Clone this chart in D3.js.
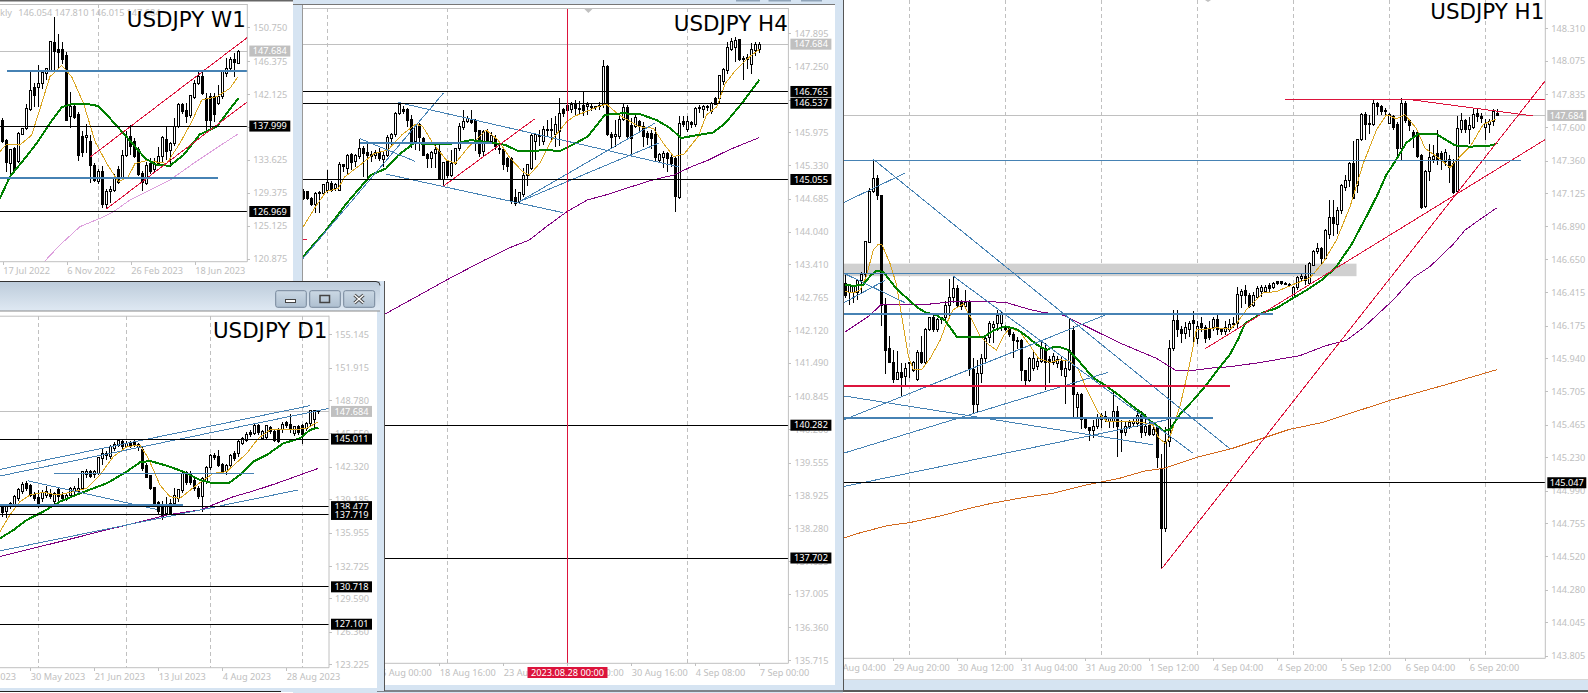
<!DOCTYPE html>
<html><head><meta charset="utf-8"><title>USDJPY multi-timeframe</title>
<script src="https://d3js.org/d3.v7.min.js"></script>
<style>
html,body{margin:0;padding:0;background:#fff;overflow:hidden}
svg{display:block}
text{font-family:"Noto Sans",sans-serif;font-size:9.2px}
.title{font-family:"DejaVu Sans",sans-serif;font-size:21.4px;fill:#000}
</style></head><body><svg id="c" width="1588" height="693"></svg>
<script>
// ---------- W1 ----------
const w1Candles=[[138.69,139.0,135.8,135.98],[136.16,136.3,132.11,133.31],[133.18,135.1,131.46,135.03],[135.12,135.3,132.0,132.24],[133.4,137.27,133.2,137.06],[136.97,137.7,136.8,137.62],[137.7,140.85,137.5,140.29],[140.2,145.02,140.0,142.65],[143.0,143.6,140.5,142.0],[143.0,145.9,140.41,143.43],[143.52,145.0,142.8,144.89],[144.8,145.45,144.0,145.45],[145.15,148.9,145.0,148.9],[148.8,152.12,145.24,147.6],[147.82,149.84,145.45,147.48],[147.82,148.9,146.0,146.53],[147.17,147.6,138.6,138.78],[139.21,142.44,137.7,140.5],[140.5,141.0,138.9,139.13],[139.43,139.86,133.49,134.26],[136.63,137.4,134.05,134.61],[136.5,138.27,134.48,136.84],[136.07,136.8,130.6,132.88],[132.97,133.2,130.82,131.03],[130.9,132.4,130.5,132.11],[132.11,132.8,127.38,127.81],[127.81,129.9,127.25,129.61],[129.53,130.2,128.02,129.83],[129.74,131.8,129.5,131.25],[132.45,132.88,130.5,130.69],[131.38,134.91,131.0,134.26],[134.26,137.3,134.0,136.63],[136.63,138.14,134.26,135.34],[135.98,136.5,133.9,134.05],[134.91,135.3,131.6,131.76],[131.89,132.2,129.66,130.69],[130.6,133.4,130.4,132.88],[133.18,133.83,131.8,132.11],[132.33,133.83,132.0,133.18],[133.18,135.34,132.9,134.05],[134.05,136.71,133.18,136.5],[136.29,137.92,133.62,134.69],[134.78,136.0,132.76,135.77],[135.77,139.0,135.4,138.0],[138.0,140.93,137.7,140.72],[140.72,141.0,139.5,139.94],[140.07,140.93,138.35,139.21],[139.3,142.0,139.1,141.92],[141.71,143.95,141.5,143.52],[143.52,145.15,143.3,144.46],[144.46,145.0,142.0,142.22],[141.58,142.22,137.27,138.78],[141.88,142.3,137.49,138.69],[141.88,142.22,138.57,139.43],[140.93,143.3,140.72,141.79],[141.79,145.11,141.5,145.11],[144.8,146.75,144.3,145.37],[145.37,146.96,145.0,146.53],[146.53,147.48,144.37,146.18],[146.1,147.81,146.0,147.684]];
const w1Green=[[-0.7,128.67],[1.8,131.46],[5.2,133.62],[8.5,135.77],[11.8,138.35],[14.75,140.41],[17.25,140.85],[21,140.85],[23.9,140.59],[26.8,139.0],[30.2,137.06],[33.5,135.12],[35.6,133.83],[38.5,132.97],[41.8,132.88],[45.2,134.26],[49.3,136.93],[53.5,137.92],[56,139.64],[58.9,141.58]];
const w1Gold=[[-0.7,134.69],[1,135.68],[4.3,135.55],[7.25,136.84],[9.75,140.93],[11.8,144.37],[14.75,145.8],[17.25,144.37],[20.2,140.93],[23.1,135.98],[26,133.18],[28.9,130.82],[31.4,131.46],[33.1,133.18],[36,133.53],[41,133.18],[44.3,135.77],[47.25,138.57],[49.75,141.36],[53.5,141.79],[56.8,142.87],[58.7,144.29]];
const w1Pink=[[10.4,120.49],[14.3,122.64],[19.3,125.01],[24.3,126.08],[27.7,126.94],[31.8,128.45],[36,129.53],[41.8,131.03],[47.7,133.18],[52.7,134.91],[58.8,136.97]];
const w1Ticks=[150.75,146.375,142.125,137.875,133.625,129.375,125.125,120.875];
const w1DateTicks=[0,16,32,48];
const w1DateLabels=["17 Jul 2022","6 Nov 2022","26 Feb 2023","18 Jun 2023"];
const w1Grid=[24];
const w1BlackLevels=[137.999,126.969];
const w1ThickBlue=[[145.15,1,61.2],[131.33,-1,53.9]];
const w1RedLines=[[21.8,133.96,61.2,149.45],[25.8,127.25,61.2,141.15]];
const w1InfoLabels=["146.054","147.810","146.015","147.684"];
// ---------- D1 ----------
const d1Candles=[[138.47,138.6,137.51,137.92],[137.99,138.47,137.41,138.47],[138.47,138.96,138.2,138.8],[138.63,139.6,138.4,139.44],[139.28,140.25,139.0,140.09],[139.92,140.83,139.7,140.63],[140.73,140.96,140.0,140.25],[140.5,140.7,139.4,139.6],[139.67,139.9,139.0,139.28],[139.35,140.09,138.31,138.7],[139.22,140.1,138.9,139.86],[139.6,140.5,139.3,139.92],[139.76,140.2,139.2,139.44],[138.96,139.9,138.7,139.76],[140.09,140.3,138.7,139.44],[139.6,139.9,139.0,139.28],[139.22,139.8,139.0,139.6],[139.6,140.4,139.3,140.25],[139.92,140.5,139.6,140.25],[139.92,141.21,139.6,140.25],[140.25,141.95,140.1,141.86],[141.54,142.12,141.2,141.92],[141.86,142.0,141.21,141.37],[141.54,142.0,141.28,141.86],[141.7,143.3,141.5,143.21],[143.15,144.05,142.5,143.63],[143.63,143.9,143.0,143.41],[143.31,144.4,143.1,144.27],[144.12,144.7,143.9,144.5],[144.37,145.02,144.2,144.86],[144.76,145.02,144.0,144.27],[144.27,144.8,144.1,144.6],[144.6,144.85,144.1,144.37],[144.66,145.0,144.2,144.37],[144.18,144.65,143.9,144.5],[144.05,144.2,141.9,142.12],[142.5,142.7,141.2,141.31],[141.44,141.55,140.1,140.25],[140.31,140.4,138.4,138.63],[138.86,139.0,137.67,137.99],[138.54,139.0,137.18,137.51],[137.83,139.44,137.6,138.54],[138.8,139.22,137.73,137.73],[138.8,140.25,138.4,139.6],[139.28,140.2,138.9,140.09],[139.99,141.8,139.8,141.7],[141.8,141.95,140.6,140.83],[141.7,141.9,140.6,140.83],[141.05,141.3,140.0,140.25],[140.25,140.5,139.2,139.44],[139.44,141.3,138.0,141.21],[140.89,142.4,140.7,142.28],[142.24,143.6,142.0,143.47],[143.47,143.7,143.0,143.21],[143.31,143.96,142.3,142.5],[142.57,142.7,141.6,141.86],[141.86,142.6,141.54,142.5],[142.5,143.6,142.3,143.47],[143.63,143.9,142.9,143.15],[143.63,144.9,143.3,144.76],[144.6,145.2,144.4,145.08],[144.92,145.66,144.7,145.47],[145.66,145.9,145.2,145.41],[145.57,146.5,145.4,146.37],[146.37,146.5,145.4,145.66],[145.08,145.9,144.9,145.73],[145.15,146.4,145.0,146.31],[146.12,146.3,145.5,145.73],[145.79,146.0,144.7,144.92],[145.89,146.1,144.6,144.76],[145.89,146.7,145.6,146.44],[146.63,146.75,146.1,146.37],[146.44,147.4,145.6,145.89],[145.57,146.3,145.3,146.21],[146.21,146.4,145.4,145.66],[146.31,146.5,144.5,145.47],[146.05,146.7,145.8,146.53],[146.47,147.85,146.3,147.76],[146.95,147.85,146.0,147.76],[147.76,147.85,147.45,147.684]];
const d1Green=[[-0.6,135.41],[2.75,136.2],[6.1,137.18],[10.25,137.99],[14.4,138.96],[19.4,139.76],[26.1,140.73],[31.1,141.86],[34.4,142.76],[36.9,142.89],[41.1,142.44],[45.25,141.86],[49.4,141.05],[52.75,140.73],[56.5,140.73],[59.4,141.54],[62.75,142.83],[66.1,143.47],[70.25,144.6],[74.4,145.08],[76.9,145.89],[79,146.12]];
const d1Gold=[[-0.6,136.06],[1.9,137.67],[4.4,138.96],[6.9,139.6],[10.25,139.86],[13.6,139.6],[17.75,139.92],[21.1,140.25],[24.4,141.54],[27.75,143.31],[31.1,144.27],[34.4,144.44],[36.5,143.15],[39.4,140.57],[41.9,139.44],[44.4,139.28],[48.6,140.57],[52.75,141.7],[56.1,141.86],[61.1,143.63],[64,145.08],[66.9,145.89],[71.9,145.89],[76.1,146.05],[79,146.7]];
const d1Purple=[[-0.6,133.64],[7.75,134.45],[16.1,135.25],[24.4,136.06],[32.75,136.86],[41.1,137.67],[49.4,138.15],[57.75,139.44],[62.75,139.99],[68.6,140.73],[74.4,141.54],[79,142.18]];
const d1Ticks=[155.145,151.915,148.78,145.55,142.32,139.185,135.955,132.725,129.59,126.36,123.225];
const d1DateTicks=[-9,7,23,39,55,71];
const d1DateLabels=["8 May 2023","30 May 2023","21 Jun 2023","13 Jul 2023","4 Aug 2023","28 Aug 2023"];
const d1Grid=[9,31,52,75];
const d1BlackLevels=[145.011,138.477,137.719,130.718,127.101];
const d1ThickBlue=[[138.63,-1,45.1]];
const d1BlueLines=[[-0.6,142.08,76.9,148.24],[-0.6,141.44,81.75,147.98],[-0.6,134.2,74,140.09],[12.9,141.7,62.9,141.7],[6.5,140.96,38.6,138.2]];
// ---------- H4 ----------
const h4Candles=[[144.82,144.88,144.66,144.68],[144.82,144.84,144.66,144.69],[144.69,144.72,144.54,144.57],[144.57,144.82,144.4,144.79],[144.8,144.84,144.4,144.78],[144.79,144.97,144.75,144.95],[144.84,145.23,144.8,145.0],[144.98,145.02,144.82,144.85],[144.88,144.98,144.84,144.95],[144.85,145.39,144.83,145.34],[145.34,145.36,145.2,145.3],[145.27,145.56,145.14,145.53],[145.55,145.57,145.24,145.39],[145.4,145.56,145.3,145.53],[145.5,145.85,145.45,145.65],[145.65,145.7,145.11,145.56],[145.58,145.76,145.08,145.53],[145.55,145.6,145.4,145.5],[145.52,145.62,145.45,145.58],[145.58,145.66,145.42,145.47],[145.45,145.58,145.3,145.53],[145.53,145.92,145.5,145.87],[145.86,145.95,145.7,145.92],[145.92,146.36,145.88,146.34],[146.33,146.55,146.3,146.52],[146.41,146.48,146.33,146.37],[146.42,146.44,146.08,146.21],[146.22,146.31,145.66,145.79],[145.79,146.13,145.62,146.11],[146.13,146.15,145.6,145.87],[145.86,145.88,145.51,145.53],[145.55,145.57,145.27,145.47],[145.47,145.6,145.27,145.58],[145.56,145.79,145.27,145.64],[145.6,145.79,145.05,145.06],[145.06,145.4,144.93,145.38],[145.4,145.43,145.08,145.14],[145.14,145.63,145.11,145.37],[145.37,145.67,145.34,145.65],[145.65,146.16,145.6,146.09],[146.07,146.41,146.02,146.18],[146.18,146.28,146.15,146.24],[146.21,146.41,146.13,146.16],[146.2,146.23,145.6,145.98],[146.0,146.02,145.49,145.56],[145.6,146.02,145.5,145.98],[145.98,146.04,145.75,145.82],[145.79,145.98,145.75,145.9],[145.86,145.92,145.62,145.69],[145.66,145.72,145.56,145.63],[145.63,145.67,145.24,145.34],[145.47,145.5,145.2,145.3],[145.47,145.49,144.58,144.62],[144.71,144.88,144.54,144.59],[144.62,144.82,144.58,144.8],[144.77,145.27,144.72,145.14],[145.14,145.36,144.92,145.34],[145.27,145.95,145.24,145.9],[145.79,145.95,145.43,145.92],[145.9,146.02,145.7,145.89],[145.79,146.09,145.72,146.03],[146.03,146.21,145.89,146.0],[146.03,146.24,145.82,146.0],[145.92,146.28,145.69,146.13],[145.98,146.63,145.71,146.34],[146.41,146.44,146.26,146.34],[146.5,146.57,146.24,146.39],[146.41,146.57,146.35,146.52],[146.53,146.6,146.28,146.44],[146.44,146.58,146.33,146.41],[146.5,146.76,146.29,146.39],[146.47,146.57,146.31,146.52],[146.48,146.53,146.38,146.46],[146.46,146.49,146.4,146.48],[146.47,146.57,146.41,146.5],[146.52,147.38,146.45,147.25],[147.25,147.27,145.9,145.92],[145.92,145.98,145.66,145.87],[145.89,146.21,145.69,145.92],[145.89,146.34,145.85,146.23],[146.23,146.52,146.2,146.46],[146.46,146.5,145.82,145.89],[146.11,146.24,145.53,145.86],[146.08,146.31,146.05,146.26],[146.18,146.22,146.0,146.08],[146.09,146.18,145.69,145.89],[145.94,146.0,145.73,145.87],[145.95,146.02,145.65,145.86],[145.92,146.08,145.4,145.49],[145.43,145.57,145.38,145.54],[145.49,145.6,145.27,145.56],[145.56,145.58,145.21,145.47],[145.49,145.53,145.3,145.37],[145.47,145.5,144.43,144.72],[144.71,146.28,144.68,146.15],[146.18,146.28,146.08,146.13],[146.02,146.28,145.98,146.18],[146.17,146.2,146.05,146.13],[146.13,146.46,146.08,146.44],[146.43,146.5,146.35,146.46],[146.41,146.5,146.25,146.48],[146.46,146.5,146.38,146.48],[146.37,146.56,146.33,146.53],[146.63,146.66,146.5,146.52],[146.63,147.07,146.55,147.07],[146.96,147.22,146.9,147.2],[147.17,147.73,147.1,147.62],[147.59,147.8,147.55,147.73],[147.62,147.82,147.34,147.76],[147.78,147.79,147.36,147.39],[147.41,147.45,146.99,147.38],[147.38,147.5,147.2,147.42],[147.28,147.7,147.1,147.58],[147.57,147.73,147.45,147.67],[147.59,147.73,147.52,147.684]];
const h4Green=[[0,143.56],[5.7,144.07],[10.8,144.59],[16.9,145.14],[20.7,145.27],[23.8,145.53],[27.6,145.76],[34.1,145.74],[38.4,145.76],[41.8,145.82],[47,145.77],[50.4,145.73],[53.9,145.6],[57.3,145.6],[59.9,145.63],[64.2,145.61],[68.1,145.76],[71.1,145.89],[75.4,146.31],[79.7,146.34],[84,146.33],[88.3,146.21],[91.8,146.05],[94.4,145.86],[98.7,145.92],[102.5,145.97],[105.5,146.15],[109.8,146.55],[114,146.99]];
const h4Gold=[[0,144.14],[3.1,144.53],[5.7,144.82],[8.7,144.88],[10.4,145.11],[14.3,145.34],[17.7,145.56],[21.2,145.63],[24.6,145.92],[28.1,146.13],[29.8,146.09],[32.4,145.76],[35.8,145.43],[38,145.37],[41,145.66],[45.7,146.02],[48.7,145.82],[51.7,145.47],[54.8,145.21],[56.5,145.14],[59.1,145.37],[62.1,145.82],[65.9,146.18],[67.7,146.28],[73.7,146.47],[75.8,146.52],[78.9,146.31],[84,146.08],[87.5,146.05],[90,145.76],[92.6,145.5],[95.2,145.55],[98.7,145.89],[100.8,146.31],[103.4,146.47],[105.5,146.92],[108.1,147.18],[111.6,147.44],[114,147.58]];
const h4Purple=[[18,142.3],[20.4,142.44],[36.7,143.14],[45.3,143.49],[51.3,143.72],[56.5,143.88],[60.8,144.14],[65.9,144.43],[71.1,144.66],[75.4,144.75],[80.6,144.88],[87.5,145.05],[92.6,145.14],[96.9,145.3],[101.2,145.43],[106.4,145.63],[114,145.87]];
const h4Ticks=[147.895,147.25,146.605,145.975,145.33,144.685,144.04,143.41,142.765,142.12,141.49,140.845,140.2,139.555,138.925,138.28,137.635,137.005,136.36,135.715];
const h4DateTicks=[18,34,50,66,82,98,114];
const h4DateLabels=["16 Aug 00:00","18 Aug 16:00","23 Aug 08:00","28 Aug 00:00","30 Aug 16:00","4 Sep 08:00","7 Sep 00:00"];
const h4Grid=[6,36,66,96];
const h4BlackLevels=[146.765,146.537,145.055,140.282,137.702];
const h4ThickBlue=[[145.77,14.1,47.2]];
const h4BlueLines=[[23.8,146.55,93.9,145.3],[20.7,145.16,65,144.41],[14.1,145.85,27.9,145.41],[-0.1,143.52,35,146.73],[53.9,144.62,87.9,146.15],[53.9,144.62,88.8,145.76]];
const h4RedLines=[[35.1,144.93,57.8,146.23]];
const h4RedStub=[[143.88,-0.2,1]];
const h4CursorBar=66;
const h4CursorLabel="2023.08.28 00:00";
// ---------- H1 ----------
const h1Candles=[[146.48,146.54,146.37,146.39],[146.41,146.47,146.32,146.47],[146.41,146.46,146.34,146.46],[146.41,146.5,146.36,146.5],[146.5,146.56,146.41,146.54],[146.54,146.78,146.48,146.78],[146.77,147.16,146.77,147.14],[147.14,147.37,147.13,147.23],[147.23,147.26,147.08,147.11],[147.11,147.11,146.17,146.32],[146.32,146.37,145.83,146.0],[146.01,146.1,145.91,145.91],[145.91,146.0,145.76,145.79],[145.79,145.99,145.79,145.84],[145.84,145.91,145.67,145.8],[145.81,145.91,145.75,145.87],[145.9,145.91,145.8,145.91],[145.85,145.92,145.84,145.91],[145.79,146.0,145.78,145.98],[145.98,146.1,145.9,145.91],[145.91,146.16,145.9,146.15],[146.15,146.24,146.14,146.23],[146.23,146.25,146.13,146.15],[146.15,146.23,146.13,146.22],[146.23,146.24,146.19,146.22],[146.23,146.35,146.2,146.32],[146.32,146.51,146.24,146.38],[146.38,146.53,146.34,146.44],[146.44,146.47,146.31,146.32],[146.34,146.36,146.29,146.31],[146.31,146.43,146.3,146.34],[146.34,146.36,145.81,145.86],[145.86,145.94,145.55,145.61],[145.61,145.93,145.55,145.83],[145.83,145.97,145.76,145.94],[145.94,146.11,145.91,146.08],[146.09,146.21,146.05,146.19],[146.16,146.21,146.05,146.18],[146.19,146.29,146.14,146.25],[146.19,146.28,146.14,146.26],[146.16,146.18,146.14,146.15],[146.16,146.17,146.09,146.11],[146.11,146.13,145.94,146.07],[146.07,146.09,146.01,146.06],[146.07,146.08,145.78,145.85],[145.85,145.86,145.75,145.78],[145.78,145.95,145.77,145.94],[145.87,146.0,145.85,145.94],[145.88,145.96,145.86,145.92],[145.92,146.07,145.91,146.01],[146.01,146.05,145.71,145.91],[145.93,145.96,145.76,145.91],[145.91,145.98,145.89,145.95],[145.9,145.96,145.87,145.93],[145.92,145.95,145.81,145.86],[145.81,145.93,145.61,145.87],[145.86,146.22,145.85,146.0],[146.14,146.17,145.52,145.68],[145.59,145.7,145.51,145.68],[145.68,145.69,145.43,145.5],[145.5,145.52,145.43,145.44],[145.44,145.45,145.35,145.42],[145.42,145.5,145.37,145.45],[145.45,145.54,145.43,145.51],[145.5,145.55,145.44,145.53],[145.52,145.56,145.48,145.5],[145.49,145.52,145.44,145.51],[145.49,145.7,145.44,145.56],[145.56,145.6,145.23,145.45],[145.43,145.5,145.27,145.41],[145.41,145.49,145.38,145.45],[145.45,145.5,145.43,145.48],[145.47,145.51,145.45,145.49],[145.47,145.56,145.45,145.53],[145.53,145.56,145.37,145.41],[145.41,145.54,145.38,145.45],[145.46,145.48,145.38,145.39],[145.39,145.45,145.38,145.43],[145.44,145.45,145.15,145.23],[145.15,145.25,144.43,144.72],[144.72,145.45,144.69,145.34],[145.34,146.07,145.3,146.01],[146.01,146.29,145.99,146.21],[146.21,146.29,146.09,146.15],[146.15,146.17,146.05,146.12],[146.12,146.2,146.08,146.16],[146.15,146.21,146.09,146.19],[146.21,146.28,146.05,146.19],[146.08,146.21,146.04,146.17],[146.19,146.24,146.13,146.16],[146.16,146.18,146.05,146.08],[146.15,146.21,146.07,146.09],[146.16,146.24,146.14,146.22],[146.22,146.26,146.11,146.15],[146.15,146.16,146.11,146.13],[146.13,146.21,146.11,146.16],[146.15,146.22,146.13,146.18],[146.18,146.24,146.16,146.19],[146.19,146.45,146.16,146.4],[146.39,146.44,146.3,146.42],[146.43,146.47,146.33,146.39],[146.39,146.41,146.3,146.31],[146.32,146.42,146.31,146.39],[146.38,146.46,146.37,146.44],[146.42,146.47,146.38,146.45],[146.42,146.47,146.41,146.45],[146.46,146.48,146.41,146.44],[146.45,146.49,146.44,146.48],[146.49,146.49,146.47,146.48],[146.49,146.49,146.47,146.48],[146.48,146.49,146.47,146.47],[146.47,146.48,146.46,146.47],[146.38,146.46,146.37,146.45],[146.45,146.53,146.43,146.52],[146.51,146.55,146.49,146.53],[146.53,146.61,146.47,146.5],[146.48,146.63,146.47,146.62],[146.61,146.72,146.6,146.71],[146.71,146.77,146.69,146.73],[146.73,146.74,146.62,146.66],[146.66,146.87,146.65,146.86],[146.83,147.08,146.8,146.95],[146.95,147.08,146.82,146.91],[146.9,147.03,146.83,147.0],[147.0,147.19,146.98,147.18],[147.17,147.26,147.14,147.22],[147.22,147.35,147.17,147.34],[147.34,147.5,147.09,147.09],[147.18,147.51,147.13,147.51],[147.51,147.7,147.5,147.69],[147.69,147.71,147.51,147.62],[147.63,147.69,147.55,147.62],[147.62,147.8,147.61,147.77],[147.77,147.78,147.69,147.75],[147.75,147.76,147.69,147.71],[147.72,147.74,147.69,147.71],[147.63,147.7,147.62,147.69],[147.68,147.69,147.58,147.6],[147.62,147.64,147.37,147.45],[147.45,147.81,147.36,147.77],[147.77,147.79,147.63,147.65],[147.65,147.66,147.57,147.61],[147.56,147.58,147.45,147.53],[147.56,147.57,147.38,147.39],[147.4,147.41,147.01,147.02],[147.03,147.29,147.02,147.28],[147.28,147.48,147.21,147.38],[147.37,147.47,147.34,147.39],[147.41,147.58,147.33,147.37],[147.41,147.43,147.29,147.37],[147.35,147.44,147.32,147.42],[147.37,147.4,147.2,147.31],[147.34,147.37,147.12,147.13],[147.14,147.68,147.12,147.59],[147.58,147.7,147.56,147.65],[147.65,147.66,147.56,147.58],[147.58,147.67,147.48,147.61],[147.6,147.74,147.59,147.69],[147.7,147.74,147.64,147.68],[147.68,147.7,147.63,147.66],[147.6,147.66,147.51,147.63],[147.62,147.66,147.56,147.64],[147.64,147.73,147.61,147.71],[147.7,147.73,147.68,147.684]];
const h1Green=[[0,146.47],[2,146.46],[4.5,146.47],[6.2,146.53],[7.8,146.57],[9.5,146.56],[12.8,146.44],[17.8,146.31],[20,146.27],[22.8,146.25],[25,146.21],[28,146.09],[29.5,146.09],[34.5,146.09],[37,146.14],[40,146.17],[42.8,146.15],[45.3,146.1],[47.8,146.04],[50.3,146.0],[52,146.02],[53.7,146.02],[55.8,146.0],[57.8,145.94],[62,145.8],[65.3,145.74],[68.7,145.67],[71.2,145.61],[74,145.55],[76.2,145.49],[77.8,145.46],[79.5,145.42],[81.2,145.43],[83.7,145.54],[87,145.64],[90.3,145.75],[93.7,145.88],[96.2,145.97],[98.25,146.08],[99.9,146.19],[104.5,146.27],[107.8,146.3],[111.2,146.36],[115.3,146.43],[119.5,146.51],[122.8,146.6],[126.6,146.76],[130.3,146.96],[132.8,147.1],[135.3,147.26],[137.8,147.37],[140.3,147.49],[143.2,147.55],[147.8,147.55],[152.4,147.47],[156.2,147.46],[162,147.47],[163,147.49]];
const h1Gold=[[0,146.42],[2,146.41],[3.7,146.43],[5.3,146.53],[7,146.72],[8.3,146.76],[9.1,146.76],[11.2,146.62],[12.8,146.47],[14.1,146.24],[15.8,145.95],[17,145.86],[19.1,145.86],[21.2,145.94],[23.7,146.07],[25.3,146.19],[27,146.29],[29.5,146.33],[31.2,146.24],[33.7,146.1],[35.8,146.04],[37.8,146.0],[39.5,146.1],[41.2,146.16],[43.7,146.13],[46.2,146.03],[48.3,145.94],[51.2,145.91],[53.7,145.93],[56.2,145.92],[58.3,145.86],[60.3,145.72],[63.3,145.55],[65.3,145.49],[71.2,145.49],[74.5,145.48],[77,145.46],[78.3,145.37],[80,145.33],[81.2,145.38],[83.7,145.6],[85.8,145.86],[87.8,146.15],[90.3,146.15],[92.8,146.16],[96.2,146.15],[97.8,146.19],[100.3,146.29],[104.5,146.41],[107.8,146.42],[112,146.47],[116.2,146.52],[119.5,146.63],[122.8,146.79],[126.2,147.03],[129.5,147.34],[132.8,147.58],[135.3,147.69],[137.8,147.66],[139.9,147.69],[142.8,147.59],[144.9,147.45],[148.7,147.37],[151.2,147.31],[153.7,147.39],[156.2,147.46],[159.5,147.62],[162.8,147.66]];
const h1Purple=[[0,146.13],[5.75,146.24],[9.1,146.33],[15.3,146.33],[21.2,146.33],[27.8,146.35],[34.5,146.35],[40.3,146.34],[46.2,146.29],[49.5,146.27],[54.5,146.25],[59.5,146.18],[63.7,146.12],[69.5,146.04],[77.8,145.94],[82.8,145.85],[86.2,145.85],[91.2,145.87],[96.2,145.88],[103.7,145.91],[113.7,145.96],[120,146.03],[125.3,146.07],[129.5,146.16],[137,146.36],[142,146.52],[146.2,146.6],[152,146.76],[154.9,146.86],[157.8,146.92],[162.8,147.02]];
const h1Orange=[[-0.4,144.65],[4,144.69],[10.7,144.74],[16,144.76],[24,144.81],[30.6,144.86],[36.7,144.9],[44.4,144.94],[51.7,144.97],[60,145.03],[68.7,145.08],[74.7,145.13],[79.6,145.15],[88,145.23],[96.4,145.29],[103.7,145.36],[111,145.43],[119.4,145.48],[126.7,145.55],[136.4,145.64],[150,145.75],[163,145.86]];
const h1Ticks=[148.31,148.075,147.835,147.6,147.36,147.125,146.89,146.65,146.415,146.175,145.94,145.705,145.465,145.23,144.99,144.755,144.52,144.28,144.045,143.805];
const h1DateTicks=[-4,12,28,44,60,76,92,108,124,140,156];
const h1DateLabels=["29 Aug 04:00","29 Aug 20:00","30 Aug 12:00","31 Aug 04:00","31 Aug 20:00","1 Sep 12:00","4 Sep 04:00","4 Sep 20:00","5 Sep 12:00","6 Sep 04:00","6 Sep 20:00"];
const h1Grid=[16,40,64,88,112,136,160];
const h1BlackLevels=[145.047];
const h1Zone=[146.62,146.53,-1,127.8];
const h1ThinBlue=[[147.362,-1,168.85],[146.548,-1,117.5]];
const h1ThickBlue=[[146.26,-1,107],[145.512,-1,92]];
const h1ThickRed=[[145.742,-1,96.2]];
const h1BlueLines=[[-0.3,147.06,14.9,147.27],[7,147.37,96.2,145.29],[-0.3,146.55,14.9,146.34],[-0.3,146.34,9.9,146.5],[27,146.53,86.85,145.26],[-0.3,145.5,64.9,146.25],[-0.3,145.26,65.75,145.84],[-0.3,145.02,80.7,145.5],[-0.3,145.67,76.85,145.32]];
const h1RedLines=[[109.9,147.8,174.9,147.8],[142,147.795,172,147.68],[79.1,144.43,174.9,147.93],[90,146.01,174.9,147.51]];
const currentPrice=147.684;

// ---------- drawing ----------
const svg=d3.select("#c");
const defs=svg.append("defs");
const BLUE="#d6e4f2",STEEL="#4682b4",CRIM="#dc143c",GOLD="#daa520",GREEN="#008000",PURPLE="#800080",AXIS="#c0c0c0";
const grad=defs.append("linearGradient").attr("id","tb").attr("x1",0).attr("y1",0).attr("x2",0).attr("y2",1);
grad.append("stop").attr("offset",0).attr("stop-color","#bccbda");
grad.append("stop").attr("offset",1).attr("stop-color","#dfe9f3");
const btn=defs.append("linearGradient").attr("id","btn").attr("x1",0).attr("y1",0).attr("x2",0).attr("y2",1);
btn.append("stop").attr("offset",0).attr("stop-color","#cbd8e4");
btn.append("stop").attr("offset",1).attr("stop-color","#aebfd0");

function panel(c){
  const g=svg.append("g");
  const [px0,py0,px1,py1]=c.plot;
  g.append("rect").attr("x",c.win[0]).attr("y",c.win[1]).attr("width",c.win[2]-c.win[0]).attr("height",c.win[3]-c.win[1]).attr("fill","#fff");
  const x=d3.scaleLinear().domain([0,c.candles.length-1]).range(c.xRange);
  const y=d3.scaleLinear().domain(c.pRange).range(c.yRange);
  const id="clip"+c.name;
  defs.append("clipPath").attr("id",id).append("rect").attr("x",px0).attr("y",py0).attr("width",px1-px0).attr("height",py1-py0);
  const p=g.append("g").attr("clip-path","url(#"+id+")");
  const cx=i=>Math.floor(x(i))+0.5;
  const hl=(arr,col,w)=>p.append("g").selectAll("line").data(arr).join("line")
    .attr("x1",d=>x(d[1])).attr("x2",d=>x(d[2])).attr("y1",d=>y(d[0])).attr("y2",d=>y(d[0]))
    .attr("stroke",col).attr("stroke-width",w).attr("shape-rendering","crispEdges");
  const seg=(arr,col,w)=>p.append("g").selectAll("line").data(arr).join("line")
    .attr("x1",d=>x(d[0])).attr("y1",d=>y(d[1])).attr("x2",d=>x(d[2])).attr("y2",d=>y(d[3]))
    .attr("stroke",col).attr("stroke-width",w).attr("shape-rendering","crispEdges");
  const ln=d3.line().x(d=>x(d[0])).y(d=>y(d[1]));
  const ma=(arr,col,w)=>p.append("path").attr("d",ln(arr)).attr("fill","none").attr("stroke",col).attr("stroke-width",w).attr("shape-rendering","crispEdges");
  // grid
  p.append("g").selectAll("line").data(c.grid).join("line")
    .attr("x1",d=>cx(d)).attr("x2",d=>cx(d)).attr("y1",py0).attr("y2",py1)
    .attr("stroke",AXIS).attr("stroke-dasharray","4 3").attr("shape-rendering","crispEdges");
  if(c.zone) p.append("rect").attr("x",x(c.zone[2])).attr("width",x(c.zone[3])-x(c.zone[2]))
    .attr("y",y(c.zone[0])).attr("height",y(c.zone[1])-y(c.zone[0])).attr("fill","#d0d0d0");
  // current price line
  hl([[currentPrice,-60,200]],AXIS,1);
  // candles
  const cg=p.append("g").attr("shape-rendering","crispEdges");
  cg.selectAll("line").data(c.candles).join("line")
    .attr("x1",(d,i)=>cx(i)).attr("x2",(d,i)=>cx(i)).attr("y1",d=>y(d[1])).attr("y2",d=>y(d[2])).attr("stroke","#000");
  cg.selectAll("rect").data(c.candles).join("rect")
    .attr("x",(d,i)=>cx(i)-1).attr("width",2)
    .attr("y",d=>y(Math.max(d[0],d[3])))
    .attr("height",d=>Math.max(1,Math.abs(y(d[0])-y(d[3]))))
    .attr("fill",d=>d[3]>=d[0]?"#fff":"#000").attr("stroke","#000");
  // objects
  (c.mas||[]).forEach(m=>ma(m[0],m[1],m[2]));
  if(c.blue) seg(c.blue,STEEL,1);
  if(c.red) seg(c.red,CRIM,1);
  hl(c.levels.map(v=>[v,-60,200]),"#000",1);
  if(c.thinBlue) hl(c.thinBlue,STEEL,1);
  if(c.thickBlue) hl(c.thickBlue,STEEL,2);
  if(c.thickRed) hl(c.thickRed,CRIM,2);
  if(c.redStub) hl(c.redStub,CRIM,1);
  // axes
  const ya=g.append("g").attr("transform",`translate(${px1},0)`)
    .call(d3.axisRight(y).tickValues(c.ticks).tickFormat(d3.format(".3f")).tickSize(3).tickPadding(3));
  ya.select(".domain").remove();
  const xa=g.append("g").attr("transform",`translate(0,${py1})`)
    .call(d3.axisBottom(x).tickValues(c.dateTicks).tickFormat((d,i)=>c.dateLabels[i]).tickSize(3).tickPadding(3));
  xa.select(".domain").remove();
  xa.selectAll("text").attr("text-anchor","start");
  g.selectAll(".tick line").attr("stroke",AXIS).attr("shape-rendering","crispEdges");
  g.selectAll(".tick text").attr("fill",AXIS).style("font-family",'"Noto Sans",sans-serif').style("font-size","9.2px");
  if(c.frameTop) g.append("line").attr("x1",px0).attr("x2",px1).attr("y1",py0+.5).attr("y2",py0+.5).attr("stroke",AXIS);
  g.append("line").attr("x1",px1).attr("x2",px1).attr("y1",py0).attr("y2",py1).attr("stroke",AXIS);
  g.append("line").attr("x1",px0).attr("x2",px1).attr("y1",py1).attr("y2",py1).attr("stroke",AXIS);
  // price tags
  const tag=(v,fill)=>{
    const yy=y(v);
    g.append("rect").attr("x",px1+2).attr("y",yy-5.5).attr("width",c.tagW).attr("height",11).attr("fill",fill);
    g.append("text").attr("x",px1+2+c.tagW/2).attr("y",yy+3.2).attr("text-anchor","middle").attr("fill","#fff").text(d3.format(".3f")(v));
  };
  tag(currentPrice,AXIS);
  c.levels.forEach(v=>tag(v,"#000"));
  g.append("text").attr("class","title").attr("x",c.title[1]).attr("y",c.title[2]).attr("text-anchor","end").text(c.title[0]);
  return {g,x,y,cx,p};
}

// H1 (bottom layer)
svg.append("rect").attr("width",1588).attr("height",693).attr("fill","#fff");
const H1=panel({name:"H1",win:[835,0,1588,693],plot:[844,0,1545.3,658.3],xRange:[845.3,1497.3],pRange:[148.31,143.805],yRange:[28.3,655.7],
  candles:h1Candles,mas:[[h1Orange,"#d2691e",1],[h1Purple,PURPLE,1],[h1Gold,GOLD,1],[h1Green,GREEN,2]],grid:h1Grid,zone:h1Zone,
  blue:h1BlueLines,red:h1RedLines,thinBlue:h1ThinBlue,thickBlue:h1ThickBlue,thickRed:h1ThickRed,levels:h1BlackLevels,
  ticks:h1Ticks,dateTicks:h1DateTicks,dateLabels:h1DateLabels,tagW:39,title:["USDJPY H1",1544.3,18.5]});
H1.g.append("path").attr("d","M1205,0h6l-3,2z").attr("fill",AXIS);
svg.append("rect").attr("x",835).attr("y",0).attr("width",8).attr("height",693).attr("fill",BLUE);
svg.append("line").attr("x1",843.5).attr("x2",843.5).attr("y1",0).attr("y2",690).attr("stroke","#555");
svg.append("rect").attr("x",835).attr("y",680).attr("width",753).attr("height",10).attr("fill",BLUE);
svg.append("line").attr("x1",844).attr("x2",1588).attr("y1",679.5).attr("y2",679.5).attr("stroke","#d8d8d8");
svg.append("line").attr("x1",372).attr("x2",1588).attr("y1",691).attr("y2",691).attr("stroke","#222");

// W1
const W1=panel({name:"W1",win:[0,0,293,281],plot:[0,4,247.3,261.7],xRange:[2.7,238.7],pRange:[150.75,120.875],yRange:[27.3,258.7],frameTop:true,
  candles:w1Candles,mas:[[w1Pink,"#dda0dd",1],[w1Gold,GOLD,1],[w1Green,GREEN,2]],grid:w1Grid,
  red:w1RedLines,thickBlue:w1ThickBlue,levels:w1BlackLevels,ticks:w1Ticks,dateTicks:w1DateTicks,dateLabels:w1DateLabels,tagW:41,title:["USDJPY W1",245.8,26.7]});
W1.g.append("text").attr("x",0).attr("y",15.7).attr("fill",AXIS).text("kly");
W1.g.selectAll(".info").data(w1InfoLabels).join("text").attr("class","info")
  .attr("x",(d,i)=>18.3+36.1*i).attr("y",15.7).attr("fill",AXIS).text(d=>d);
W1.g.select(".title").raise();
svg.append("rect").attr("width",293).attr("height",1.5).attr("fill","#666");

// H4
svg.append("rect").attr("x",293).attr("y",0).attr("width",547).attr("height",693).attr("fill",BLUE);
const H4=panel({name:"H4",win:[302,5,835,685],plot:[302.6,8,788.4,663.3],xRange:[303.3,759.3],pRange:[147.895,135.715],yRange:[33.3,660.3],frameTop:true,
  candles:h4Candles,mas:[[h4Purple,PURPLE,1],[h4Gold,GOLD,1],[h4Green,GREEN,2]],grid:h4Grid,
  blue:h4BlueLines,red:h4RedLines,thickBlue:h4ThickBlue,redStub:h4RedStub,levels:h4BlackLevels,
  ticks:h4Ticks,dateTicks:h4DateTicks,dateLabels:h4DateLabels,tagW:41,title:["USDJPY H4",787.8,30.7]});
H4.p.append("line").attr("x1",H4.cx(h4CursorBar)).attr("x2",H4.cx(h4CursorBar)).attr("y1",8).attr("y2",663.3).attr("stroke",CRIM).attr("shape-rendering","crispEdges");
H4.g.append("rect").attr("x",H4.cx(h4CursorBar)-40).attr("y",667).attr("width",80).attr("height",11).attr("fill",CRIM);
H4.g.append("text").attr("x",H4.cx(h4CursorBar)).attr("y",675.8).attr("text-anchor","middle").attr("fill","#fff").text(h4CursorLabel);
H4.g.append("path").attr("d","M583.6,8.3h9.6l-4.8,4.7z").attr("fill",AXIS);
svg.append("line").attr("x1",293).attr("x2",835).attr("y1",4.5).attr("y2",4.5).attr("stroke","#777");
svg.append("line").attr("x1",302.5).attr("x2",302.5).attr("y1",5).attr("y2",281).attr("stroke","#999");
[[736,760],[768.5,791],[801,822]].forEach(b=>svg.append("rect").attr("x",b[0]).attr("y",0).attr("width",b[1]-b[0]).attr("height",1.5).attr("fill","#8fa3b8"));
svg.append("rect").attr("x",835).attr("y",0).attr("width",8).attr("height",693).attr("fill",BLUE);
svg.append("line").attr("x1",843.5).attr("x2",843.5).attr("y1",0).attr("y2",690).attr("stroke","#555");
svg.append("line").attr("x1",372).attr("x2",1588).attr("y1",691).attr("y2",691).attr("stroke","#222");

// D1 (top layer)
svg.append("rect").attr("x",377).attr("y",281).attr("width",7.5).attr("height",410).attr("fill",BLUE);
svg.append("line").attr("x1",384.5).attr("x2",384.5).attr("y1",281).attr("y2",691).attr("stroke","#555");
const D1=panel({name:"D1",win:[0,311,377,688],plot:[0,315.7,329,667.7],xRange:[2.33,318.33],pRange:[155.145,123.225],yRange:[334.3,664.3],frameTop:true,
  candles:d1Candles,mas:[[d1Purple,PURPLE,1],[d1Gold,GOLD,1],[d1Green,GREEN,2]],grid:d1Grid,
  blue:d1BlueLines,thickBlue:d1ThickBlue,levels:d1BlackLevels,ticks:d1Ticks,dateTicks:d1DateTicks,dateLabels:d1DateLabels,tagW:41,title:["USDJPY D1",327.3,337.7]});
svg.append("rect").attr("x",0).attr("y",281).attr("width",380).attr("height",30).attr("fill","url(#tb)");
svg.append("path").attr("d","M0,281.5H376Q380,281.5 380,285.5").attr("fill","none").attr("stroke","#333");
svg.append("line").attr("x1",0).attr("x2",380).attr("y1",311).attr("y2",311).attr("stroke","#8a8a8a");
[[275.7,306.3],[309.7,340.3],[343.7,374.7]].forEach(b=>svg.append("rect").attr("x",b[0]).attr("y",290.7).attr("width",b[1]-b[0]).attr("height",16.6).attr("rx",2).attr("fill","url(#btn)").attr("stroke","#76879a"));
svg.append("rect").attr("x",285.5).attr("y",299.5).attr("width",10).attr("height",3).attr("fill","#fff").attr("stroke","#444");
svg.append("rect").attr("x",320).attr("y",295.5).attr("width",9.5).attr("height",7).attr("fill","none").attr("stroke","#444").attr("stroke-width",1.5);
[["#444",3.2],["#fff",1.4]].forEach(s=>{
  svg.append("path").attr("d","M354.5,295L363.5,303M363.5,295L354.5,303").attr("stroke",s[0]).attr("stroke-width",s[1]).attr("fill","none");
});
svg.append("rect").attr("x",0).attr("y",688).attr("width",377).attr("height",4).attr("fill",BLUE);
svg.append("line").attr("x1",0).attr("x2",281).attr("y1",691.5).attr("y2",691.5).attr("stroke","#222");
</script></body></html>
